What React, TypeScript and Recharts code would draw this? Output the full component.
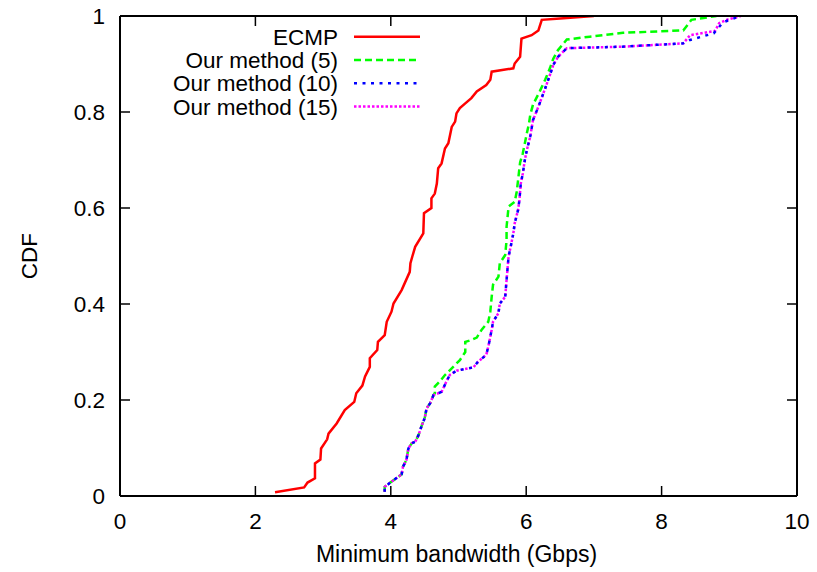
import React from 'react';
import { LineChart, Line, XAxis, YAxis, Legend } from 'recharts';

const xTicks = [0, 2, 4, 6, 8, 10];
const yTicks = [0, 0.2, 0.4, 0.6, 0.8, 1];

const ecmpX = [2.29, 2.72, 2.77, 2.88, 2.88, 2.96, 2.97, 3.06, 3.08, 3.2, 3.32, 3.46, 3.49, 3.58, 3.62, 3.69, 3.69, 3.8, 3.81, 3.91, 3.94, 4.01, 4.04, 4.16, 4.28, 4.29, 4.32, 4.36, 4.48, 4.49, 4.6, 4.6, 4.65, 4.68, 4.7, 4.75, 4.8, 4.85, 4.9, 4.95, 4.97, 5.02, 5.1, 5.19, 5.27, 5.41, 5.47, 5.49, 5.81, 5.83, 5.91, 5.93, 6.08, 6.18, 6.23, 6.5, 7.0];
const ecmpY = [0.008, 0.018, 0.028, 0.037, 0.068, 0.076, 0.099, 0.118, 0.13, 0.151, 0.179, 0.196, 0.214, 0.23, 0.249, 0.269, 0.287, 0.304, 0.321, 0.335, 0.363, 0.384, 0.401, 0.429, 0.467, 0.485, 0.5, 0.519, 0.547, 0.589, 0.6, 0.62, 0.63, 0.651, 0.683, 0.693, 0.724, 0.735, 0.769, 0.78, 0.797, 0.808, 0.818, 0.829, 0.843, 0.856, 0.867, 0.884, 0.891, 0.901, 0.915, 0.953, 0.96, 0.97, 0.992, 0.995, 1.0];

const m5X = [3.91, 3.91, 4.04, 4.16, 4.18, 4.23, 4.26, 4.31, 4.36, 4.41, 4.46, 4.5, 4.53, 4.58, 4.63, 4.65, 4.65, 4.72, 4.8, 4.9, 5.02, 5.1, 5.1, 5.19, 5.27, 5.34, 5.44, 5.47, 5.49, 5.51, 5.59, 5.61, 5.69, 5.71, 5.71, 5.74, 5.83, 5.86, 5.88, 5.91, 5.95, 5.98, 6.01, 6.04, 6.06, 6.1, 6.2, 6.28, 6.35, 6.4, 6.47, 6.6, 6.94, 7.43, 8.32, 8.44, 8.81];
const m5Y = [0.009, 0.019, 0.033, 0.045, 0.061, 0.075, 0.099, 0.11, 0.113, 0.127, 0.148, 0.162, 0.183, 0.193, 0.21, 0.214, 0.228, 0.238, 0.252, 0.266, 0.283, 0.3, 0.321, 0.325, 0.33, 0.346, 0.363, 0.384, 0.415, 0.44, 0.457, 0.485, 0.502, 0.533, 0.561, 0.603, 0.613, 0.634, 0.658, 0.695, 0.714, 0.735, 0.756, 0.775, 0.794, 0.815, 0.843, 0.867, 0.891, 0.911, 0.929, 0.951, 0.957, 0.965, 0.97, 0.992, 1.0];

const m10X = [3.91, 3.91, 4.04, 4.16, 4.18, 4.23, 4.26, 4.31, 4.36, 4.41, 4.46, 4.5, 4.53, 4.58, 4.63, 4.75, 4.82, 4.87, 4.97, 5.22, 5.29, 5.41, 5.44, 5.49, 5.51, 5.59, 5.61, 5.69, 5.71, 5.74, 5.77, 5.81, 5.83, 5.88, 5.9, 5.92, 5.95, 5.98, 6.01, 6.06, 6.1, 6.18, 6.28, 6.35, 6.4, 6.47, 6.6, 7.41, 8.32, 8.42, 8.77, 8.83, 8.91, 9.17];
const m10Y = [0.009, 0.019, 0.033, 0.045, 0.061, 0.075, 0.099, 0.11, 0.113, 0.127, 0.148, 0.162, 0.183, 0.193, 0.21, 0.217, 0.238, 0.252, 0.261, 0.268, 0.28, 0.294, 0.311, 0.346, 0.363, 0.381, 0.401, 0.415, 0.45, 0.499, 0.519, 0.547, 0.568, 0.596, 0.617, 0.651, 0.672, 0.7, 0.721, 0.749, 0.783, 0.811, 0.849, 0.877, 0.898, 0.915, 0.933, 0.936, 0.943, 0.95, 0.964, 0.974, 0.987, 1.0];

const m15X = [3.91, 3.91, 4.04, 4.16, 4.18, 4.23, 4.26, 4.31, 4.36, 4.41, 4.46, 4.5, 4.53, 4.58, 4.63, 4.75, 4.82, 4.87, 4.97, 5.22, 5.29, 5.41, 5.44, 5.49, 5.51, 5.59, 5.61, 5.69, 5.71, 5.74, 5.77, 5.81, 5.83, 5.88, 5.9, 5.92, 5.95, 5.98, 6.01, 6.06, 6.1, 6.18, 6.28, 6.35, 6.4, 6.47, 6.6, 7.41, 8.32, 8.42, 8.79, 8.85, 8.96, 9.17];
const m15Y = [0.009, 0.019, 0.033, 0.045, 0.061, 0.075, 0.099, 0.11, 0.113, 0.127, 0.148, 0.162, 0.183, 0.193, 0.21, 0.217, 0.238, 0.252, 0.261, 0.268, 0.28, 0.294, 0.311, 0.346, 0.363, 0.381, 0.401, 0.415, 0.45, 0.499, 0.519, 0.547, 0.568, 0.596, 0.617, 0.651, 0.672, 0.7, 0.721, 0.749, 0.783, 0.811, 0.849, 0.877, 0.898, 0.915, 0.933, 0.936, 0.943, 0.96, 0.969, 0.985, 0.992, 1.0];

const toPoints = (xs: number[], ys: number[]) => xs.map((x, i) => ({ x, y: ys[i] }));

const FONT = "'Liberation Sans', Arial, Helvetica, sans-serif";
const FS = 22.5;

const series = [
  { name: 'ECMP', data: toPoints(ecmpX, ecmpY), color: '#ff0000', dash: undefined as string | undefined },
  { name: 'Our method (5)', data: toPoints(m5X, m5Y), color: '#00ff00', dash: '7 4' },
  { name: 'Our method (15)', data: toPoints(m15X, m15Y), color: '#ff00ff', dash: '2.5 2' },
  { name: 'Our method (10)', data: toPoints(m10X, m10Y), color: '#0000ff', dash: '3 5.5' },
];
const legendOrder = ['ECMP', 'Our method (5)', 'Our method (10)', 'Our method (15)'];

const BottomTick = (props: any) => {
  const { x, y, payload } = props;
  return (
    <g>
      <line x1={x} x2={x} y1={y} y2={y - 10} stroke="#000" strokeWidth={1.5} />
      <text x={x} y={y + 33} textAnchor="middle" fontSize={FS} fontFamily={FONT} fill="#000">
        {payload.value}
      </text>
    </g>
  );
};

const TopTick = (props: any) => {
  const { x, y } = props;
  return <line x1={x} x2={x} y1={y} y2={y + 10} stroke="#000" strokeWidth={1.5} />;
};

const LeftTick = (props: any) => {
  const { x, y, payload } = props;
  return (
    <g>
      <line x1={x} x2={x + 10} y1={y} y2={y} stroke="#000" strokeWidth={1.5} />
      <text x={x - 15} y={y + 8} textAnchor="end" fontSize={FS} fontFamily={FONT} fill="#000">
        {payload.value}
      </text>
    </g>
  );
};

const RightTick = (props: any) => {
  const { x, y } = props;
  return <line x1={x} x2={x - 10} y1={y} y2={y} stroke="#000" strokeWidth={1.5} />;
};

const XTitle = (props: any) => {
  const { viewBox } = props;
  return (
    <text x={viewBox.x + viewBox.width / 2 - 2} y={viewBox.y + 66} textAnchor="middle" fontSize={23} fontFamily={FONT} fill="#000">
      Minimum bandwidth (Gbps)
    </text>
  );
};

const YTitle = (props: any) => {
  const { viewBox } = props;
  const cx = viewBox.x + 17;
  const cy = viewBox.y + viewBox.height / 2;
  return (
    <text x={cx} y={cy} transform={`rotate(-90 ${cx} ${cy})`} textAnchor="middle" fontSize={FS} fontFamily={FONT} fill="#000">
      CDF
    </text>
  );
};

const renderLegend = () => (
  <svg width={440} height={125} style={{ display: 'block' }}>
    {legendOrder.map((name, i) => {
      const s = series.find((d) => d.name === name)!;
      const cy = 36.7 + i * 23.3;
      return (
        <g key={name}>
          <text x={338} y={cy + 8} textAnchor="end" fontSize={FS} fontFamily={FONT} fill="#000">
            {name}
          </text>
          <line x1={354} x2={420} y1={cy} y2={cy} stroke={s.color} strokeWidth={2.5} strokeDasharray={s.dash} />
        </g>
      );
    })}
  </svg>
);

export default function App() {
  return (
    <div style={{ position: 'absolute', left: 0, top: 0, width: 817, height: 572, background: '#fff' }}>
      <LineChart width={817} height={572} margin={{ top: 0, right: 0, bottom: 0, left: 20 }}>
        <XAxis
          dataKey="x"
          type="number"
          domain={[0, 10]}
          ticks={xTicks}
          interval={0}
          allowDataOverflow
          height={76}
          tickSize={0}
          tickMargin={0}
          tickLine={false}
          tick={<BottomTick />}
          axisLine={{ stroke: '#000', strokeWidth: 2 }}
          label={<XTitle />}
        />
        <XAxis
          xAxisId="top"
          orientation="top"
          dataKey="x"
          type="number"
          domain={[0, 10]}
          ticks={xTicks}
          interval={0}
          allowDataOverflow
          height={16}
          tickSize={0}
          tickMargin={0}
          tickLine={false}
          tick={<TopTick />}
          axisLine={{ stroke: '#000', strokeWidth: 2 }}
        />
        <YAxis
          type="number"
          domain={[0, 1]}
          ticks={yTicks}
          interval={0}
          allowDataOverflow
          width={100}
          tickSize={0}
          tickMargin={0}
          tickLine={false}
          tick={<LeftTick />}
          axisLine={{ stroke: '#000', strokeWidth: 2 }}
          label={<YTitle />}
        />
        <YAxis
          yAxisId="right"
          orientation="right"
          type="number"
          domain={[0, 1]}
          ticks={yTicks}
          interval={0}
          allowDataOverflow
          width={20}
          tickSize={0}
          tickMargin={0}
          tickLine={false}
          tick={<RightTick />}
          axisLine={{ stroke: '#000', strokeWidth: 2 }}
        />
        <Legend
          layout="vertical"
          align="center"
          verticalAlign="middle"
          wrapperStyle={{ position: 'absolute', left: 0, top: 0, width: 440, height: 125 }}
          content={renderLegend}
        />
        {series.map((s) => (
          <Line
            key={s.name}
            data={s.data}
            dataKey="y"
            name={s.name}
            type="linear"
            stroke={s.color}
            strokeWidth={2.5}
            strokeDasharray={s.dash}
            dot={false}
            activeDot={false}
            isAnimationActive={false}
          />
        ))}
      </LineChart>
    </div>
  );
}
